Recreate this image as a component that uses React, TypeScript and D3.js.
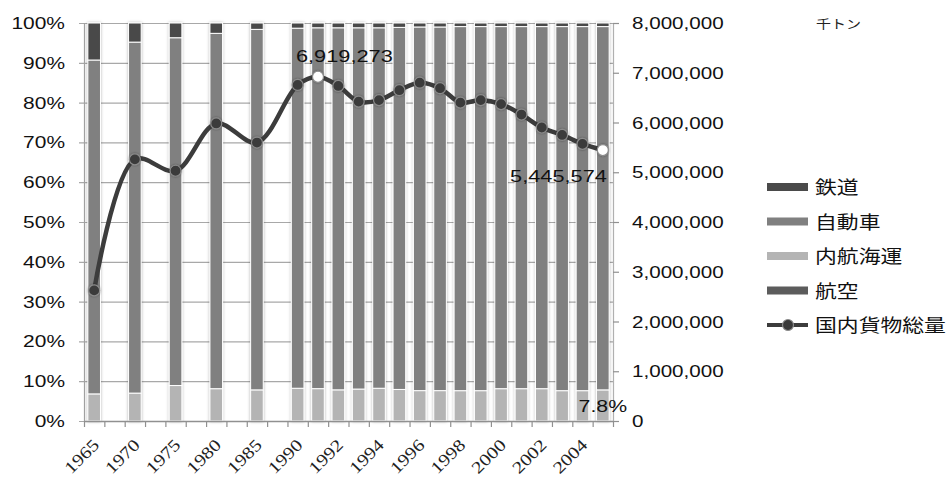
import { useEffect, useRef } from 'react';
import * as d3 from 'd3';

// categories: blanks between the five-year points keep the original spacing
const years = ['1965', '', '1970', '', '1975', '', '1980', '', '1985', '',
  '1990', '1991', '1992', '1993', '1994', '1995', '1996', '1997', '1998', '1999',
  '2000', '2001', '2002', '2003', '2004', '2005'];

// shares in % (null = blank slot)
const railShare = [9.3, null, 4.8, null, 3.7, null, 2.6, null, 1.6, null,
  1.3, 1.2, 1.2, 1.2, 1.2, 1.1, 1.0, 1.0, 0.9, 0.9, 0.9, 0.9, 0.9, 0.9, 0.9, 0.9];
const coastalShare = [6.8, null, 7.0, null, 8.9, null, 8.1, null, 7.8, null,
  8.2, 8.1, 7.8, 8.0, 8.2, 7.9, 7.6, 7.6, 7.6, 7.6, 8.1, 8.1, 8.1, 7.6, 7.6, 7.8];
const airShare = [0.01, null, 0.01, null, 0.01, null, 0.02, null, 0.02, null,
  0.03, 0.03, 0.03, 0.03, 0.03, 0.03, 0.03, 0.03, 0.02, 0.02, 0.02, 0.02, 0.02, 0.02, 0.02, 0.02];

// 国内貨物総量 (千トン)
const totalTons = [2625000, null, 5259000, null, 5030000, null, 5981000, null, 5597000, null,
  6755000, 6919273, 6735000, 6420000, 6450000, 6650000, 6800000, 6690000, 6400000, 6450000,
  6370000, 6160000, 5900000, 5750000, 5570000, 5445574];

const pctTicks = [0, 10, 20, 30, 40, 50, 60, 70, 80, 90, 100];
const tonTicks = [0, 1000000, 2000000, 3000000, 4000000, 5000000, 6000000, 7000000, 8000000];

const legendItems = [
  { name: '鉄道', color: '#4a4a4a' },
  { name: '自動車', color: '#808080' },
  { name: '内航海運', color: '#b4b4b4' },
  { name: '航空', color: '#5c5c5c' },
];
const lineName = '国内貨物総量';

const W = 949;
const H = 479;
const SANS = '"Liberation Sans", Arial, sans-serif';
const SERIF = '"Liberation Serif", "Times New Roman", serif';
const CJK = '"Noto Sans CJK JP", sans-serif';

export default function App() {
  const svgRef = useRef<SVGSVGElement>(null);

  useEffect(() => {
    if (!svgRef.current) return;
    const svg = d3.select(svgRef.current);
    svg.selectAll('*').remove();

    const left = 84, right = 613, top = 23, bottom = 421;

    const x = d3.scaleBand<number>()
      .domain(years.map((_, i) => i))
      .range([left, right])
      .paddingInner(0.38)
      .paddingOuter(0.19);
    const step = x.step();
    const cx = (i: number) => (x(i) || 0) + x.bandwidth() / 2;
    const yPct = d3.scaleLinear().domain([0, 100]).range([bottom, top]);
    const yTon = d3.scaleLinear().domain([0, 8000000]).range([bottom, top]);

    const defs = svg.append('defs');
    const f = defs.append('filter').attr('id', 'barShadow')
      .attr('x', '-50%').attr('y', '-5%').attr('width', '200%').attr('height', '110%');
    f.append('feDropShadow').attr('dx', 0).attr('dy', 0).attr('stdDeviation', 1.6)
      .attr('flood-color', '#000').attr('flood-opacity', 0.3);
    const f2 = defs.append('filter').attr('id', 'dotShadow')
      .attr('x', '-50%').attr('y', '-50%').attr('width', '200%').attr('height', '200%');
    f2.append('feDropShadow').attr('dx', 0).attr('dy', 0).attr('stdDeviation', 1)
      .attr('flood-color', '#000').attr('flood-opacity', 0.4);

    svg.append('rect').attr('width', W).attr('height', H).attr('fill', '#fff');

    // gridlines
    svg.append('g').selectAll('line').data(pctTicks).enter().append('line')
      .attr('x1', left - 5).attr('x2', right)
      .attr('y1', d => yPct(d) + 0.5).attr('y2', d => yPct(d) + 0.5)
      .attr('stroke', '#a8a8a8').attr('stroke-width', 1.2);

    // stacked bars: 航空 (bottom), 内航海運, 自動車, 鉄道 (top)
    const stackRows = years.map((_, i) => {
      if (railShare[i] == null) return null;
      const air = airShare[i] as number;
      const coastal = coastalShare[i] as number;
      const rail = railShare[i] as number;
      const truck = 100 - air - coastal - rail;
      return { i, segs: [
        { v: air, c: legendItems[3].color },
        { v: coastal, c: legendItems[2].color },
        { v: truck, c: legendItems[1].color },
        { v: rail, c: legendItems[0].color },
      ] };
    }).filter(Boolean) as { i: number; segs: { v: number; c: string }[] }[];

    const barG = svg.append('g').attr('filter', 'url(#barShadow)');
    stackRows.forEach(row => {
      let acc = 0;
      const g = barG.append('g');
      row.segs.forEach(s => {
        const y0 = yPct(acc + s.v);
        const y1 = yPct(acc);
        g.append('rect')
          .attr('x', x(row.i) || 0).attr('width', x.bandwidth())
          .attr('y', y0).attr('height', Math.max(0, y1 - y0))
          .attr('fill', s.c).attr('stroke', '#fff').attr('stroke-width', 1);
        acc += s.v;
      });
    });

    // axes lines
    svg.append('line').attr('x1', left + 0.5).attr('x2', left + 0.5).attr('y1', top).attr('y2', bottom)
      .attr('stroke', '#a0a0a0').attr('stroke-width', 1.2);
    svg.append('line').attr('x1', right + 0.5).attr('x2', right + 0.5).attr('y1', top).attr('y2', bottom)
      .attr('stroke', '#b0b0b0').attr('stroke-width', 1.2);
    svg.append('line').attr('x1', left).attr('x2', right).attr('y1', bottom + 0.5).attr('y2', bottom + 0.5)
      .attr('stroke', '#909090').attr('stroke-width', 1.4);
    // x ticks at band boundaries
    svg.append('g').selectAll('line').data(d3.range(years.length + 1)).enter().append('line')
      .attr('x1', d => left + d * step + 0.5).attr('x2', d => left + d * step + 0.5)
      .attr('y1', bottom).attr('y2', bottom + 6)
      .attr('stroke', '#909090').attr('stroke-width', 1.2);
    // right ticks
    svg.append('g').selectAll('line').data(tonTicks).enter().append('line')
      .attr('x1', right).attr('x2', right + 6)
      .attr('y1', d => yTon(d) + 0.5).attr('y2', d => yTon(d) + 0.5)
      .attr('stroke', '#909090').attr('stroke-width', 1.2);

    // left labels
    svg.append('g').selectAll('text').data(pctTicks).enter().append('text')
      .attr('transform', d => `translate(65,${yPct(d) + 6}) scale(1.27,1)`)
      .attr('text-anchor', 'end')
      .attr('font-family', SANS).attr('font-size', 16.5).attr('fill', '#111')
      .text(d => `${d}%`);
    // right labels
    const fmt = d3.format(',');
    svg.append('g').selectAll('text').data(tonTicks).enter().append('text')
      .attr('transform', d => `translate(632,${yTon(d) + 6}) scale(1.25,1)`)
      .attr('font-family', SANS).attr('font-size', 16.5).attr('fill', '#111')
      .text(d => fmt(d));

    // x labels (every other slot)
    svg.append('g').selectAll('text')
      .data(years.map((y, i) => ({ y, i })).filter(d => d.i % 2 === 0 && d.y))
      .enter().append('text')
      .attr('transform', d => `translate(${cx(d.i) + 6},${bottom + 25}) rotate(-45) scale(1.2,1)`)
      .attr('text-anchor', 'end')
      .attr('font-family', SERIF).attr('font-size', 17).attr('fill', '#222')
      .text(d => d.y);

    // total line
    const pts = totalTons.map((v, i) => ({ v, i })).filter(d => d.v != null) as { v: number; i: number }[];
    const line = d3.line<{ v: number; i: number }>()
      .x(d => cx(d.i)).y(d => yTon(d.v))
      .curve(d3.curveCatmullRom.alpha(0.5));
    svg.append('path').datum(pts).attr('d', line)
      .attr('fill', 'none').attr('stroke', '#3c3c3c').attr('stroke-width', 4.5)
      .attr('stroke-linejoin', 'round');
    const highlight = new Set([11, 25]);
    svg.append('g').attr('filter', 'url(#dotShadow)').selectAll('circle').data(pts).enter().append('circle')
      .attr('cx', d => cx(d.i)).attr('cy', d => yTon(d.v)).attr('r', 5.5)
      .attr('fill', d => highlight.has(d.i) ? '#fff' : '#3a3a3a')
      .attr('stroke', '#8c8c8c').attr('stroke-width', 1.2);

    // data labels
    const peak = pts.find(d => d.i === 11)!;
    svg.append('text')
      .attr('transform', `translate(${cx(peak.i) - 22},${yTon(peak.v) - 15}) scale(1.28,1)`)
      .attr('font-family', SANS).attr('font-size', 17).attr('fill', '#111')
      .text(fmt(peak.v));
    const last = pts.find(d => d.i === 25)!;
    svg.append('text')
      .attr('transform', `translate(${cx(last.i) + 4},${yTon(last.v) + 32}) scale(1.28,1)`)
      .attr('text-anchor', 'end')
      .attr('font-family', SANS).attr('font-size', 17).attr('fill', '#111')
      .text(fmt(last.v));
    const air25 = airShare[25] as number, coast25 = coastalShare[25] as number;
    svg.append('text')
      .attr('transform', `translate(${cx(25)},${yPct(air25 + coast25 / 2) + 7}) scale(1.25,1)`)
      .attr('text-anchor', 'middle')
      .attr('font-family', SANS).attr('font-size', 17).attr('fill', '#111')
      .text(`${coast25}%`);

    // unit
    svg.append('text')
      .attr('transform', 'translate(816,29) scale(1.2,1)')
      .attr('font-family', CJK).attr('font-size', 12.5).attr('fill', '#222')
      .text('千トン');

    // legend
    const lg = svg.append('g');
    const ly = (k: number) => 187 + k * 34.5;
    legendItems.forEach((it, k) => {
      lg.append('rect').attr('x', 767).attr('y', ly(k) - 4).attr('width', 41).attr('height', 8)
        .attr('fill', it.color);
      lg.append('text')
        .attr('transform', `translate(815,${ly(k) + 7}) scale(1.18,1)`)
        .attr('font-family', CJK).attr('font-size', 18.5).attr('fill', '#111')
        .text(it.name);
    });
    lg.append('line').attr('x1', 767).attr('x2', 808).attr('y1', ly(4)).attr('y2', ly(4))
      .attr('stroke', '#3c3c3c').attr('stroke-width', 4);
    lg.append('circle').attr('cx', 788).attr('cy', ly(4)).attr('r', 5.5)
      .attr('fill', '#3a3a3a').attr('stroke', '#8c8c8c').attr('stroke-width', 1.2);
    lg.append('text')
      .attr('transform', `translate(815,${ly(4) + 7}) scale(1.18,1)`)
      .attr('font-family', CJK).attr('font-size', 18.5).attr('fill', '#111')
      .text(lineName);
  }, []);

  return (
    <svg ref={svgRef} width={W} height={H}
      style={{ position: 'absolute', left: 0, top: 0, display: 'block' }} />
  );
}
